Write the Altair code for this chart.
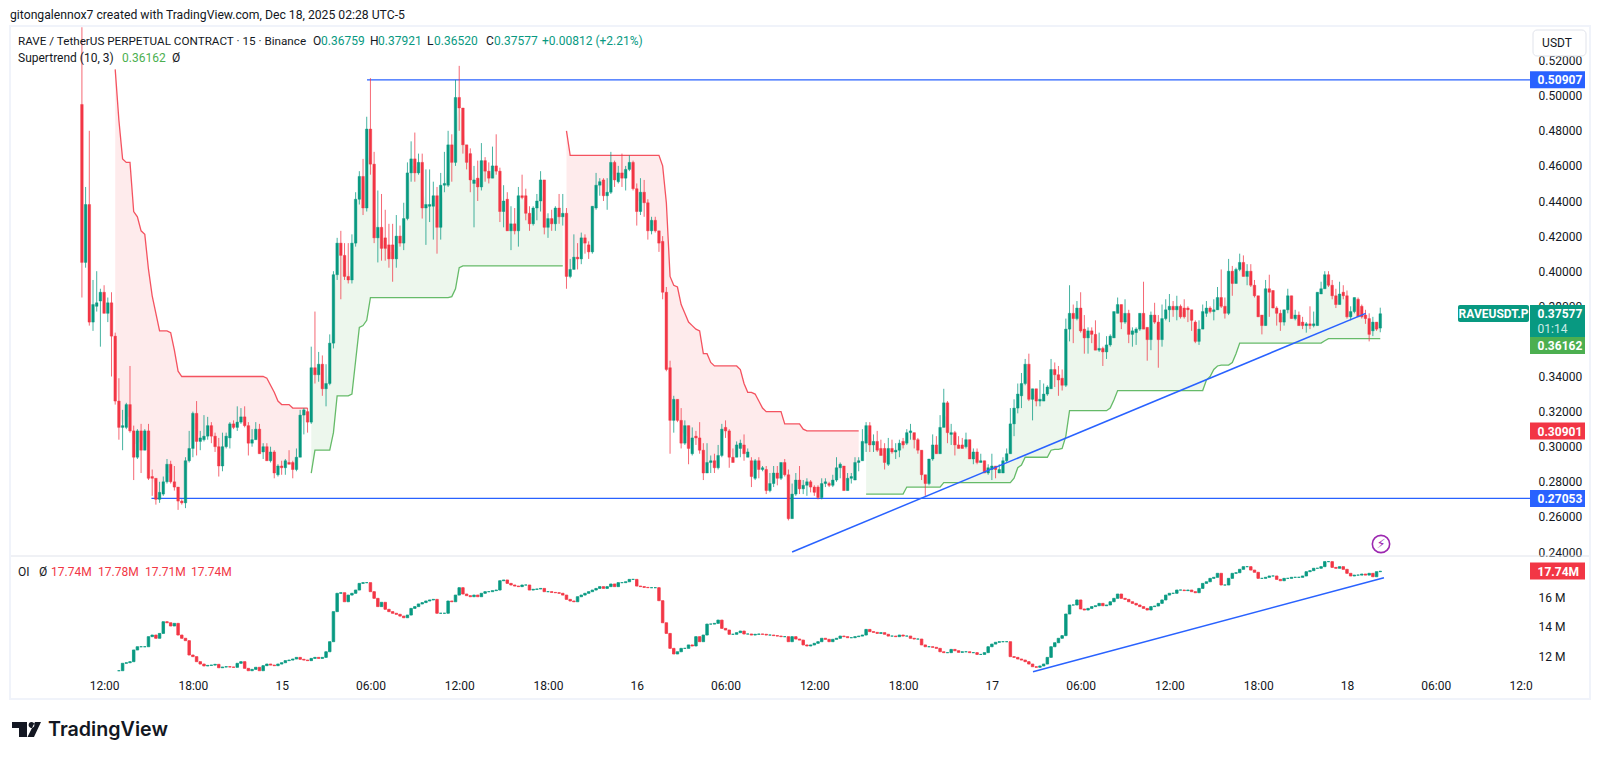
import altair as alt
import pandas as pd

opens = [495,405,438,371,380,383,388,376,382,363,326,311,311,324,309,294,309,298,309,283,
282,270,273,280,290,280,277,269,268,292,299,319,303,304,306,312,306,300,289,300,
305,313,311,314,317,312,302,304,310,297,300,292,297,284,289,288,291,291,287,294,
318,320,314,345,341,347,333,336,359,398,416,409,397,395,416,441,454,436,481,461,
419,425,419,415,415,407,420,416,430,456,464,456,462,436,437,437,443,425,449,449,
472,462,499,493,472,467,450,453,448,463,457,453,460,457,434,441,423,427,423,443,
443,433,427,436,440,452,425,430,427,436,431,433,397,401,408,407,419,415,411,436,
449,452,443,445,462,451,456,453,458,462,447,434,445,439,423,429,423,417,388,345,
315,327,315,302,312,296,306,305,298,285,291,292,288,295,311,309,294,294,299,301,
294,292,282,292,287,287,275,279,285,282,291,284,259,273,281,276,278,280,277,277,
271,279,279,278,281,288,289,275,282,281,291,292,302,312,301,303,299,299,290,299,
297,298,303,302,308,308,304,298,284,279,293,301,296,311,325,307,308,301,301,300,
304,293,297,291,292,285,287,289,285,285,292,296,313,322,329,336,347,327,333,326,
326,330,333,344,341,339,335,367,376,373,379,367,362,366,364,355,356,354,358,362,
376,381,371,376,364,365,367,376,368,361,375,371,361,373,378,380,378,380,379,379,
378,371,360,367,376,379,377,378,385,380,376,400,393,401,405,397,400,392,386,375,
369,390,389,379,376,371,378,386,373,375,371,369,370,369,369,387,390,398,392,386,
381,388,386,374,377,384,380,375,373,366,371,367.59]
closes = [405,438,371,381,382,388,376,382,363,326,311,312,324,309,294,309,298,309,282,282,
270,274,280,290,280,277,269,268,292,299,319,303,305,306,312,306,300,289,300,306,
313,311,314,317,312,302,304,310,296,300,292,297,285,289,288,292,290,287,294,318,
321,314,345,341,347,333,336,359,398,416,409,397,395,416,441,454,436,481,461,419,
425,413,413,407,407,420,416,430,456,464,456,462,436,438,438,443,425,449,450,472,
462,499,493,472,462,452,452,448,463,457,453,460,457,434,440,423,427,423,443,442,
433,427,436,440,452,425,430,427,436,431,433,397,401,408,407,419,416,411,437,449,
451,443,445,462,452,456,453,458,462,447,434,445,439,423,429,423,416,388,344,315,
327,315,302,312,299,305,305,298,285,291,292,288,295,310,309,294,291,301,302,296,
297,283,292,287,288,275,279,285,282,291,284,259,273,281,276,278,280,277,274,271,
279,280,278,281,288,290,275,282,283,291,292,303,312,301,303,298,295,291,299,297,
298,302,301,308,309,304,298,284,279,293,301,296,311,325,308,308,301,299,299,304,
293,297,291,292,285,288,289,287,287,292,296,313,322,330,336,347,327,333,326,327,
330,334,344,341,338,335,367,376,373,379,366,362,366,364,355,356,354,358,363,377,
381,371,376,364,366,367,376,367,361,375,371,361,373,378,380,378,380,374,374,378,
372,360,367,377,379,377,378,385,380,376,400,393,401,405,397,400,392,386,374,369,
390,388,379,376,371,378,386,373,375,369,369,370,369,370,388,390,398,392,386,381,
387,386,374,377,385,374,374,373,364,371,367,375.77]
highs = [539,448,480,395,400,390,392,385,388,365,339,321,325,346,312,310,313,310,313,287,
282,280,283,293,292,289,277,270,294,309,320,326,309,318,317,314,308,305,308,308,
314,315,323,322,323,314,310,314,313,302,302,300,298,290,292,293,298,292,299,321,
322,322,357,377,354,352,347,364,400,419,423,416,416,421,445,457,464,488,510,468,
446,444,435,427,427,432,426,439,462,474,479,467,467,458,458,451,448,456,468,480,
478,509,517,493,472,470,460,463,473,465,462,471,478,459,449,445,437,436,448,455,
447,437,437,444,457,452,433,435,437,444,444,436,407,421,416,422,421,417,437,456,
453,453,453,468,463,460,467,460,466,463,450,453,452,441,431,431,423,420,391,349,
329,327,322,315,312,311,309,314,302,302,295,296,301,313,315,310,299,303,304,307,
299,294,293,294,289,289,285,289,289,291,293,287,279,285,289,281,282,281,278,278,
282,282,280,284,294,291,289,285,285,294,294,310,314,314,307,309,304,302,305,304,
302,304,305,310,313,308,305,298,284,293,307,306,318,333,326,313,309,306,305,308,
304,299,299,296,292,290,296,289,290,294,299,322,327,336,342,350,353,333,333,338,
336,335,350,348,346,344,373,392,381,383,388,375,368,368,372,365,357,363,364,377,
385,381,384,378,368,368,376,394,368,377,382,375,381,384,387,383,386,381,384,380,
378,372,372,381,383,380,384,391,401,385,407,403,402,410,409,404,404,395,386,375,
395,398,389,380,378,378,390,386,378,377,374,371,380,377,388,394,400,400,395,390,
394,392,389,380,385,385,381,378,376,374,371,379.21]
lows = [385,402,369,366,377,357,376,371,340,324,304,298,310,308,281,293,285,298,281,272,
267,268,272,279,279,275,264,267,265,291,294,295,298,303,304,302,297,283,286,299,
299,310,309,313,311,295,300,304,296,293,292,291,282,283,284,284,290,282,286,294,
307,308,313,336,337,329,323,335,356,395,384,395,393,393,414,438,432,434,455,416,
405,406,406,402,394,402,414,412,429,451,451,455,430,415,428,418,410,418,445,448,
451,460,480,467,458,445,425,440,446,451,450,453,455,428,425,423,412,421,414,441,
429,423,426,429,434,421,419,423,423,427,426,390,396,401,401,404,410,407,410,435,
443,440,435,444,448,450,448,446,457,446,426,432,431,418,421,422,411,384,343,296,
308,314,299,301,290,295,301,296,281,285,285,285,287,294,305,288,291,294,294,292,
294,277,281,282,286,273,274,277,278,281,283,258,259,272,273,273,272,274,272,270,
270,277,277,277,280,282,275,275,279,281,286,292,297,297,297,297,295,287,289,296,
293,294,299,301,304,299,296,281,272,278,292,296,296,311,302,301,295,299,299,299,
293,290,290,291,285,284,281,282,285,285,291,296,306,319,322,335,326,315,323,323,
326,329,333,334,329,332,334,360,359,372,365,353,353,359,355,354,346,350,357,362,
376,367,370,359,357,358,366,367,349,355,370,345,357,372,371,374,372,373,373,371,
366,359,358,367,374,376,372,378,379,373,375,386,393,400,397,392,391,385,374,364,
369,374,379,369,366,369,376,373,372,369,367,365,367,368,369,387,390,391,384,379,
381,384,373,372,376,374,373,370,360,363,366,365.20]

st_red_1_start = 9
st_red_1 = [515,486,464,462,462,434,431,423,421,401,386,376,366,366,366,365,355,343,340] + [340]*22 + \
    [339,335,331,326,324,324,324,322] + [322]*4
st_green_1_start = 62
st_green_1 = [285,298,298,298,298,298,308,329,329,329,329,330,349,368,369,372] + [385]*22 + [385.5,390,402] + [403]*28
st_red_2_start = 131
st_red_2 = [480] + [466]*25 + [460,439,397,392,391,381,376,371,369,367,366,353,353,348,346] + [346]*6 + \
    [344,336,331,331,330,326,322,320] + [320]*4 + [313]*5 + [310,309] + [309]*14
st_green_2_start = 212
st_green_2 = [273]*11 + [277]*10 + [279.5]*19 + [282,288,289.5,294] + [294]*6 + [298,298.5,298.5,299,306,320.5] + \
    [320.5]*10 + [322,326.6,332] + [332]*23 + [338,340,344,346] + [346.5]*3 + [348,353,359] + [359]*22 + [360.4,361.6] + [361.62]*14

oi_closes = [11.02,11.52,11.56,11.63,12.42,12.64,12.64,12.64,13.32,13.43,13.21,13.54,14.33,14.26,14.04,14.22,13.43,13.21,13.05,
12.08,11.97,11.63,11.47,11.34,11.38,11.40,11.45,11.22,11.27,11.29,11.27,11.25,11.52,11.63,11.18,11.02,11.11,11.25,
11.02,11.36,11.47,11.40,11.36,11.47,11.56,11.70,11.74,11.81,11.92,11.79,11.74,11.70,11.85,11.92,11.85,11.92,12.30,12.98,
15.01,16.25,16.29,15.68,16.13,16.25,16.47,16.92,16.97,16.97,16.36,15.91,15.35,15.64,15.17,15.01,14.90,14.83,14.71,14.60,
14.78,15.23,15.35,15.53,15.62,15.73,15.80,15.84,14.90,14.90,14.90,15.73,15.68,16.13,16.63,16.20,16.09,16.02,16.13,
16.02,16.25,16.36,16.36,16.43,16.47,17.10,17.15,16.92,16.81,16.74,16.70,16.81,16.81,16.47,16.52,16.54,16.58,16.36,16.36,
16.31,16.29,16.25,16.13,15.84,15.73,15.68,16.02,16.13,16.25,16.36,16.47,16.58,16.70,16.58,16.70,16.88,16.70,16.97,
16.97,17.03,17.19,17.19,16.74,16.70,16.65,16.63,16.63,16.63,15.75,14.26,13.54,12.53,12.15,12.30,12.53,12.53,12.76,
12.69,13.32,
12.98,13.43,14.17,14.17,14.22,14.44,13.88,13.77,13.48,13.48,13.59,13.70,13.50,13.50,13.43,13.48,13.50,13.48,13.43,13.43,
13.39,13.36,13.32,13.32,12.98,13.32,13.16,13.09,12.76,12.69,12.76,12.87,12.98,13.21,13.14,12.98,13.14,13.21,13.36,13.32,
13.25,13.25,13.32,13.36,13.43,13.81,13.66,13.61,13.54,13.59,13.48,13.36,13.36,13.32,13.43,13.36,13.36,13.21,13.16,13.16,
12.76,12.64,12.64,12.60,12.53,12.30,12.24,12.24,12.46,12.37,12.26,12.30,12.30,12.24,12.24,12.12,12.12,12.24,12.64,12.82,
12.94,12.98,12.98,12.98,11.97,11.92,11.81,11.74,11.63,11.47,11.29,11.25,11.34,11.47,11.92,12.64,12.91,13.21,13.39,14.85,
15.46,15.46,15.80,15.19,15.12,15.23,15.35,15.41,15.57,15.41,15.46,15.68,15.91,16.20,15.91,15.84,15.68,15.57,15.46,15.35,
15.23,15.12,15.35,15.39,15.57,15.80,16.13,16.25,16.25,16.47,16.47,16.43,16.47,16.36,16.29,16.58,16.92,17.03,17.26,17.33,
17.60,16.81,16.81,17.26,17.60,17.64,17.87,18.05,18.05,17.82,17.67,17.26,17.26,17.33,17.42,17.42,17.19,17.10,17.26,17.26,
17.33,17.33,17.33,17.42,17.71,17.78,17.94,17.94,18.05,18.39,18.39,18.00,17.94,18.05,17.87,17.60,17.42,17.48,17.48,17.55,
17.48,17.60,17.37,17.71,17.74]

resistance = 0.50907
support = 0.27053
hline_res_h = [17.77, 96.37]
hline_sup_h = [3.2, 96.37]
trend_h = [46.5, 85.27]
trend_p = [0.240, 0.376]
oi_trend_h = [62.78, 86.5]
oi_trend_v = [10.95, 17.30]

price_ticks = [0.24,0.26,0.28,0.30,0.32,0.34,0.38,0.40,0.42,0.44,0.46,0.48,0.50,0.52]
oi_ticks = [12,14,16]
time_ticks = [0,6,12,18,24,30,36,42,48,54,60,66,72,78,84,90]
time_labels = ['12:00','18:00','15','06:00','12:00','18:00','16','06:00','12:00','18:00','17','06:00','12:00','18:00','18','06:00']

GREEN = '#089981'; RED = '#F23645'; BLUE = '#2962FF'; STG = '#4CAF50'; INK = '#131722'
FONT = 'Roboto'
n = len(closes)
def hour(i):
    return -1.5 + 0.25 * i

cd = pd.DataFrame({'h':[hour(i) for i in range(n)],
    'o':[v/1000 for v in opens],'c':[v/1000 for v in closes],
    'hi':[v/1000 for v in highs],'lo':[v/1000 for v in lows]})
cd['up'] = ['u' if c >= o else 'd' for o, c in zip(cd.o, cd.c)]

def segment(start, vals, name):
    rows = []
    for k, v in enumerate(vals):
        i = start + k
        rows.append({'h':hour(i),'st':v/1000,'mid':(opens[i]+closes[i])/2000,'seg':name})
    return rows
red = pd.DataFrame(segment(st_red_1_start, st_red_1,'r1') + segment(st_red_2_start, st_red_2,'r2'))
grn = pd.DataFrame(segment(st_green_1_start, st_green_1,'g1') + segment(st_green_2_start, st_green_2,'g2'))

m = len(oi_closes)
oi = pd.DataFrame({'h':[86.25-0.25*(m-1-k) for k in range(m)],'c':oi_closes})
oi['o'] = oi.c.shift(1).fillna(oi.c)
oi['up'] = ['u' if c >= o else 'd' for o, c in zip(oi.o, oi.c)]

xs = alt.Scale(domain=[-6.36, 96.37], range=[0, 1520], nice=False, zero=False, padding=0)
ys = alt.Scale(domain=[0.24, 0.52], range=[526, 34.6], nice=False, zero=False, padding=0)
ysoi = alt.Scale(domain=[11, 19], range=[645, 526.6], nice=False, zero=False, padding=0)
X = alt.X('h:Q', scale=xs, axis=None, title=None)
col = alt.Color('up:N', scale=alt.Scale(domain=['u','d'], range=[GREEN, RED]), legend=None)
strk = alt.Stroke('up:N', scale=alt.Scale(domain=['u','d'], range=[GREEN, RED]), legend=None)

Xaxis = alt.X('h:Q', scale=xs, title=None, axis=alt.Axis(values=time_ticks, grid=False, domain=False, ticks=False, orient='bottom',
    labelExpr="%s[datum.value/6]" % str(time_labels), labelFont=FONT, labelFontSize=12, labelColor=INK, labelPadding=10, labelFlush=False, labelOverlap=False, zindex=0))

def fill_line(df, color):
    area = alt.Chart(df).mark_area(color=color, opacity=0.1, interpolate='linear').encode(
        x=X, y=alt.Y('st:Q', scale=ys, axis=None, title=None), y2='mid:Q', detail='seg:N')
    line = alt.Chart(df).mark_line(color=color, strokeWidth=1.3, opacity=0.85).encode(
        x=X, y=alt.Y('st:Q', scale=ys, axis=None, title=None), detail='seg:N')
    return [area, line]

def hline(hs, ps, width=1.3):
    d = pd.DataFrame({'h':hs,'p':ps})
    return alt.Chart(d).mark_line(color=BLUE, strokeWidth=width).encode(x=X, y=alt.Y('p:Q', scale=ys, axis=None, title=None))

axis_price = alt.Chart(pd.DataFrame({'h':[0.0],'p':[0.3]})).mark_point(size=0).encode(
    x=Xaxis,
    y=alt.Y('p:Q', scale=ys, title=None, axis=alt.Axis(orient='right', values=price_ticks, format='.5f', grid=False, domain=False, ticks=False,
        labelFont=FONT, labelFontSize=12, labelColor=INK, labelPadding=8, labelOverlap=False, labelFlush=False, zindex=0)))

wicks = alt.Chart(cd).mark_rule(strokeWidth=1, opacity=0.75).encode(x=X, y=alt.Y('hi:Q', scale=ys, axis=None, title=None), y2='lo:Q', color=col)
bodies = alt.Chart(cd).mark_bar(size=2.6, orient='vertical', strokeWidth=0.4).encode(x=X, y=alt.Y('o:Q', scale=ys, axis=None, title=None), y2='c:Q', color=col, stroke=strk)

top = alt.layer(*fill_line(red, RED), *fill_line(grn, STG),
    hline(hline_res_h, [resistance]*2), hline(hline_sup_h, [support]*2), wicks, bodies, hline(trend_h, trend_p, 1.5))

axis_oi = alt.Chart(pd.DataFrame({'h':[0.0],'v':[14.0]})).mark_point(size=0).encode(
    x=X, y=alt.Y('v:Q', scale=ysoi, title=None, axis=alt.Axis(orient='right', values=oi_ticks, grid=False, domain=False, ticks=False,
        labelExpr="datum.value + ' M'", labelFont=FONT, labelFontSize=12, labelColor=INK, labelPadding=8, labelOverlap=False, zindex=0)))
oi_bars = alt.Chart(oi).mark_bar(size=2.5, orient='vertical', strokeWidth=0.8).encode(
    x=X, y=alt.Y('o:Q', scale=ysoi, axis=None, title=None), y2='c:Q', color=col, stroke=strk)
oi_trend = alt.Chart(pd.DataFrame({'h':oi_trend_h,'v':oi_trend_v})).mark_line(color=BLUE, strokeWidth=1.5).encode(
    x=X, y=alt.Y('v:Q', scale=ysoi, axis=None, title=None))
bottom = alt.layer(oi_bars, oi_trend)

one = pd.DataFrame({'a':[0]})
def txt(s, px, py, color=INK, size=12, weight='normal', align='left', font=FONT):
    return alt.Chart(one).mark_text(text=s, align=align, baseline='middle', color=color, fontSize=size, fontWeight=weight, font=font).encode(
        x=alt.value(px-10), y=alt.value(py-26))
def box(x0, x1, y0, y1, fill, stroke=None, sw=0, radius=0):
    kw = dict(fill=fill)
    if stroke:
        kw.update(stroke=stroke, strokeWidth=sw)
    if radius:
        kw.update(cornerRadius=radius)
    return alt.Chart(one).mark_rect(**kw).encode(x=alt.value(x0-10), x2=alt.value(x1-10), y=alt.value(y0-26), y2=alt.value(y1-26))

frame = box(10, 1590, 26, 699, 'transparent', '#F0F3FA', 2)
sep = alt.Chart(one).mark_rule(color='#E0E3EB', strokeWidth=1).encode(x=alt.value(0), x2=alt.value(1580), y=alt.value(530))

def tag(y, label, color):
    return [box(1530, 1585, y-8.5, y+8.5, color), txt(label, 1537.5, y+0.5, 'white', 12, 'bold')]

logo_path = ("M-1,-0.517 L0.034,-0.517 L0.034,0.517 L-0.517,0.517 L-0.517,-0.103 L-1,-0.103 Z "
             "M0.145,-0.31 a0.2,0.2 0 1,0 0.4,0 a0.2,0.2 0 1,0 -0.4,0 Z "
             "M0.586,-0.517 L1,-0.517 L0.517,0.517 L0.069,0.517 Z")
logo = alt.Chart(one).mark_point(shape=logo_path, size=841, filled=True, fill='#131722', opacity=1, strokeWidth=0).encode(
    x=alt.value(26.5-10), y=alt.value(729.5-26))
bolt_ring = alt.Chart(one).mark_point(shape='circle', size=300, filled=False, stroke='#9C27B0', strokeWidth=1.6, opacity=1).encode(
    x=alt.value(1381-10), y=alt.value(544-26))

deco = [sep, frame,
    box(1458, 1529, 305, 322, GREEN, radius=2), txt('RAVEUSDT.P', 1493.5, 314, 'white', 12, 'bold', 'center'),
    box(1530, 1585, 305, 337, GREEN), txt('0.37577', 1537.5, 314, 'white', 12, 'bold'), txt('01:14', 1537.5, 329, '#CDEBE6', 12),
    *tag(345.5, '0.36162', STG), *tag(79.7, '0.50907', BLUE), *tag(431, '0.30901', RED), *tag(498.5, '0.27053', BLUE), *tag(571, '17.74M', RED),
    box(1533, 1586, 30, 56, 'white', '#E0E3EB', 1, 4), txt('USDT', 1557, 43, INK, 12, 'normal', 'center'),
    txt('12:0', 1509.5, 686),
    txt('gitongalennox7 created with TradingView.com, Dec 18, 2025 02:28 UTC-5', 10, 15, INK, 12.2),
    txt('RAVE / TetherUS PERPETUAL CONTRACT · 15 · Binance', 18, 41, INK, 11.7),
    txt('O', 313, 41), txt('0.36759', 321, 41, GREEN),
    txt('H', 370, 41), txt('0.37921', 378, 41, GREEN),
    txt('L', 427, 41), txt('0.36520', 434, 41, GREEN),
    txt('C', 486, 41), txt('0.37577', 494, 41, GREEN),
    txt('+0.00812 (+2.21%)', 542, 41, GREEN),
    txt('Supertrend (10, 3)', 18, 58), txt('0.36162', 122, 58, STG), txt('Ø', 172, 58),
    txt('OI', 18, 572), txt('Ø', 39, 572),
    txt('17.74M', 51, 572, RED), txt('17.78M', 98, 572, RED), txt('17.71M', 145, 572, RED), txt('17.74M', 191, 572, RED),
    bolt_ring, txt('⚡', 1381, 544, '#9C27B0', 13, 'normal', 'center', 'DejaVu Sans'),
    logo, txt('TradingView', 48, 730, '#131722', 19.7, 600, 'left', 'Inter'),
]

chart = alt.layer(axis_price, axis_oi, top, bottom, *deco).resolve_scale(y='independent').resolve_axis(x='independent').properties(
    width=1520, height=644,
    autosize=alt.AutoSizeParams(type='none'),
    padding={'left':2,'top':18,'right':62,'bottom':81},
    background='white',
).configure_view(stroke=None)

chart.save("out.html", embed_options={"renderer": "svg", "actions": False})
